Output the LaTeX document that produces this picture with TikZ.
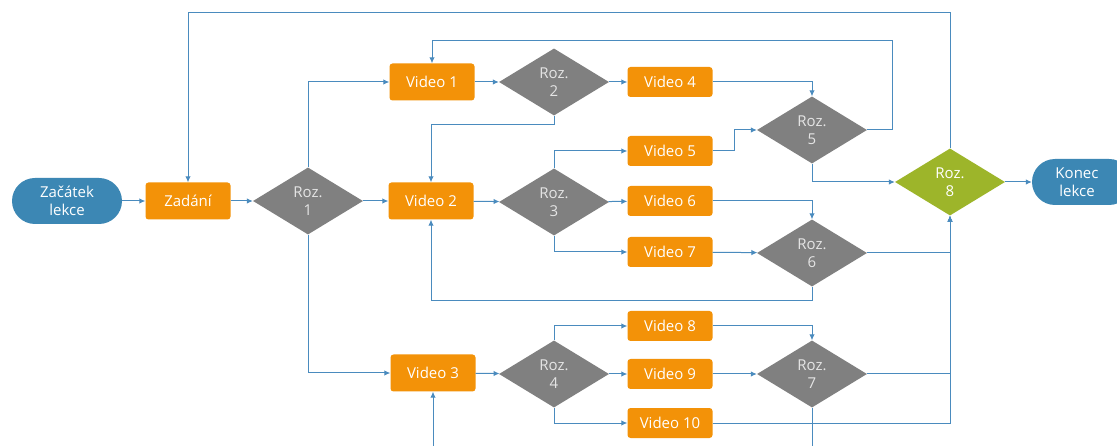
\documentclass[tikz,border=0pt]{standalone}
\usepackage{fontspec}
\setmainfont{Open Sans}
\usetikzlibrary{shapes.geometric,arrows.meta,calc}
\definecolor{flowblue}{HTML}{4A8BBE}
\definecolor{termblue}{HTML}{3C87B4}
\definecolor{vidorange}{HTML}{F39208}
\definecolor{decgray}{HTML}{808080}
\definecolor{finalgreen}{HTML}{9DB52A}
\tikzset{
  txt/.style={font=\fontsize{15}{18.5}\selectfont, text=white, align=center},
  terminal/.style={txt, fill=termblue, rounded corners=23pt, minimum width=110pt, minimum height=46pt, inner sep=0pt},
  bigvid/.style={txt, fill=vidorange, rounded corners=3pt, minimum width=85pt, minimum height=37pt, inner sep=0pt},
  smallvid/.style={txt, fill=vidorange, rounded corners=3pt, minimum width=85pt, minimum height=30pt, inner sep=0pt},
  decision/.style={txt, text=white!90!black, diamond, fill=decgray, minimum width=110pt, minimum height=67pt, inner sep=0pt},
  finaldec/.style={decision, fill=finalgreen, text=white},
  flow/.style={draw=flowblue, line width=1pt, -{Latex[length=6pt,width=5.5pt]}},
}
\begin{document}
\begin{tikzpicture}[x=1pt,y=-1pt]
\fill[white] (0,0) rectangle (1117,446);
\useasboundingbox (0,0) rectangle (1117,446);
\clip (0,0) rectangle (1117,446);

% nodes
\node[terminal] (start) at (67,201) {Začátek\\lekce};
\node[bigvid] (zad) at (188,201) {Zadání};
\node[decision] (r1) at (308,201) {Roz.\\1};

\node[bigvid] (v1) at (432,82) {Video 1};
\node[bigvid] (v2) at (431,201) {Video 2};
\node[bigvid] (v3) at (433,373) {Video 3};

\node[decision] (r2) at (554,82) {Roz.\\2};
\node[decision] (r3) at (554,202) {Roz.\\3};
\node[decision] (r4) at (554,374) {Roz.\\4};

\node[smallvid] (v4) at (670,82) {Video 4};
\node[smallvid] (v5) at (670,151) {Video 5};
\node[smallvid] (v6) at (670,201) {Video 6};
\node[smallvid] (v7) at (670,252) {Video 7};
\node[smallvid] (v8) at (670,326) {Video 8};
\node[smallvid] (v9) at (670,374) {Video 9};
\node[smallvid] (v10) at (670,423) {Video 10};

\node[decision] (r5) at (812,130) {Roz.\\5};
\node[decision] (r6) at (812,253) {Roz.\\6};
\node[decision] (r7) at (812,374) {Roz.\\7};
\node[finaldec] (r8) at (950,182) {Roz.\\8};

\node[terminal, minimum width=100pt] (end) at (1082,182) {\hspace*{-10pt}Konec\\\hspace*{-10pt}lekce};

% loop corners
\coordinate (loopA) at (892,41);
\coordinate (loopB) at (950,13);
\coordinate (loopC) at (812,470);

% connectors
\draw[flow] (start) -- (zad);
\draw[flow] (zad) -- (r1);
\draw[flow] (r1.north) |- (v1.west);
\draw[flow] (r1) -- (v2);
\draw[flow] (r1.south) |- (v3.west);

\draw[flow] (v1) -- (r2);
\draw[flow] (r2) -- (v4);
\draw[flow] (r2.south) -- ++(0,9) -| (v2.north);
\draw[flow] (v4.east) -| (r5.north);

\draw[flow] (v2) -- (r3);
\draw[flow] (r3.north) |- (v5.west);
\draw[flow] (r3) -- (v6);
\draw[flow] (r3.south) |- (v7.west);
\draw[flow] (v5.east) -- ++(22,0) |- (r5.west);
\draw[flow] (v6.east) -| (r6.north);
\draw[flow] (v7) -- (r6);
\draw[flow] (r6.south) -- ++(0,14) -| (v2.south);

\draw[flow] (v3) -- (r4);
\draw[flow] (r4.north) |- (v8.west);
\draw[flow] (r4) -- (v9);
\draw[flow] (r4.south) |- (v10.west);
\draw[flow] (v8.east) -| (r7.north);
\draw[flow] (v9) -- (r7);
\draw[flow] (r7.south) -- (loopC) -| (v3.south);

\draw[flow] (r5.south) |- (r8.west);
\draw[flow] (r5.east) -| (loopA) -| (v1.north);
\draw[flow] (r6.east) -| (r8.south);
\draw[flow] (r7.east) -| (r8.south);
\draw[flow] (v10.east) -| (r8.south);
\draw[flow] (r8.north) -- (loopB) -| (zad.north);
\draw[flow] (r8) -- (end);
\end{tikzpicture}
\end{document}
